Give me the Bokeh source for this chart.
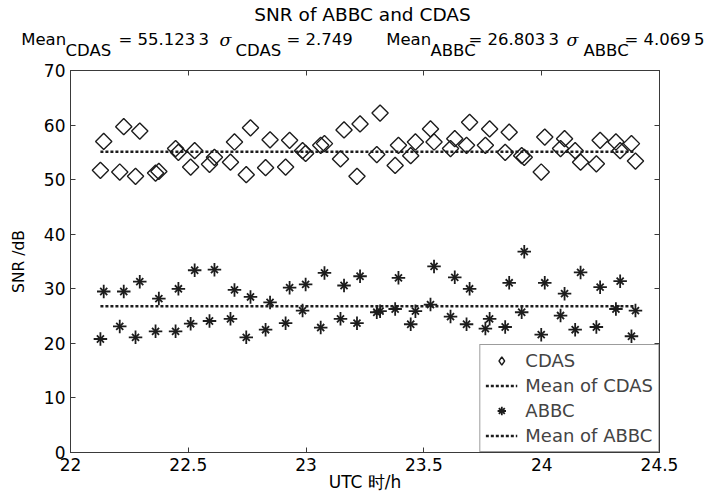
import numpy as np
from bokeh.plotting import figure
from bokeh.layouts import column
from bokeh.models import (Range1d, LinearAxis, FixedTicker, Label, Legend,
                          LegendItem, ColumnDataSource)
from bokeh.embed import file_html
from bokeh.resources import INLINE

# ---------------- data ----------------
utc = [22.127, 22.141, 22.209, 22.226, 22.276, 22.294, 22.361, 22.375, 22.446, 22.458,
       22.510, 22.527, 22.590, 22.611, 22.679, 22.696, 22.746, 22.764, 22.828, 22.847,
       22.913, 22.930, 22.985, 22.998, 23.062, 23.078, 23.146, 23.161, 23.216, 23.229,
       23.300, 23.314, 23.378, 23.392, 23.444, 23.464, 23.528, 23.543, 23.613, 23.631,
       23.681, 23.694, 23.761, 23.779, 23.845, 23.862, 23.915, 23.926, 23.998, 24.013,
       24.080, 24.097, 24.142, 24.165, 24.232, 24.248, 24.315, 24.333, 24.381, 24.398]
snr_cdas = [51.7, 57.0, 51.4, 59.7, 50.6, 58.9, 51.2, 51.5, 55.7, 55.0,
            52.3, 55.3, 52.8, 54.1, 53.2, 56.9, 50.9, 59.5, 52.2, 57.3,
            52.3, 57.2, 55.3, 54.8, 56.3, 56.6, 53.8, 59.1, 50.6, 60.2,
            54.6, 62.2, 52.6, 56.3, 54.4, 56.9, 59.3, 56.9, 55.7, 57.5,
            56.3, 60.5, 56.3, 59.3, 55.0, 58.7, 54.4, 54.1, 51.4, 57.8,
            55.7, 57.5, 55.3, 53.2, 52.9, 57.2, 56.9, 55.3, 56.6, 53.4]
snr_abbc = [20.8, 29.5, 23.1, 29.5, 21.1, 31.3, 22.2, 28.2, 22.2, 30.0,
            23.6, 33.4, 24.1, 33.5, 24.5, 29.8, 21.1, 28.5, 22.5, 27.5,
            23.7, 30.2, 26.0, 30.8, 22.9, 32.9, 24.5, 30.6, 23.7, 32.3,
            25.7, 25.9, 26.3, 32.0, 23.5, 25.9, 27.1, 34.1, 24.9, 32.1,
            23.5, 30.0, 22.7, 24.5, 23.0, 31.1, 25.7, 36.8, 21.6, 31.1,
            25.1, 29.1, 22.5, 33.0, 23.0, 30.3, 26.3, 31.4, 21.3, 26.0]
mean_cdas = 55.1233
std_cdas = 2.749
mean_abbc = 26.8033
std_abbc = 4.0695
x_ticks = [22, 22.5, 23, 23.5, 24, 24.5]
x_tick_labels = ["22", "22.5", "23", "23.5", "24", "24.5"]
y_ticks = [0, 10, 20, 30, 40, 50, 60, 70]
y_tick_labels = ["0", "10", "20", "30", "40", "50", "60", "70"]

# ---------------- layout ----------------
W, H = 710, 496
TH = 59            # title strip height
MH = H - TH        # main figure height
BL, BR, BT, BB = 70, 51, 11, 44

INK = "#1c1c1c"
AX = "#3a3a3a"
FONT = "DejaVu Sans"

# ---- title strip (a figure whose frame is its whole canvas) ----
tf = figure(width=W, height=TH, x_range=Range1d(0, W), y_range=Range1d(0, TH),
            output_backend="svg", toolbar_location=None,
            min_border_left=0, min_border_right=0, min_border_top=0, min_border_bottom=0,
            x_axis_location=None, y_axis_location=None, frame_align=False)
tf.outline_line_color = None
tf.grid.visible = False

def lab(text, px, py, size, font=FONT, style="normal", align="left"):
    tf.add_layout(Label(x=px, y=TH - py, text=text, text_font=font,
                        text_font_size=f"{size}px", text_font_style=style,
                        text_align=align, text_baseline="alphabetic", text_color="black"))

lab("SNR of ABBC and CDAS", 362, 13.5, 18.5, align="center")

def grp(v):
    s = repr(v)
    i, f = s.split(".")
    if len(f) > 3:
        f = f[:3] + "\u2009" + f[3:]
    return i + "." + f

FS = 16.5
BASE, SUB = 38.5, 50

# text pieces of the statistics line and the left edge of each piece (px)
stat_pieces = [
    ("Mean", "main", 20.7), ("CDAS", "sub", 65), ("= " + grp(mean_cdas), "main", 118),
    ("σ", "sig", 219), ("CDAS", "sub", 235), ("= " + grp(std_cdas), "main", 286),
    ("Mean", "main", 385.7), ("ABBC", "sub", 430), ("= " + grp(mean_abbc), "main", 468),
    ("σ", "sig", 566), ("ABBC", "sub", 583), ("= " + grp(std_abbc), "main", 624),
]
for t, kind, x in stat_pieces:
    if kind == "main":
        lab(t, x, BASE, FS)
    elif kind == "sub":
        lab(t, x, SUB, FS)
    else:
        lab(t, x, BASE + 1, 17.5, font="DejaVu Serif", style="italic")

# ---- main plot ----
p = figure(width=W, height=MH, x_range=Range1d(22, 24.5), y_range=Range1d(0, 70),
           output_backend="svg", toolbar_location=None, frame_align=False,
           min_border_left=BL, min_border_right=BR, min_border_top=BT, min_border_bottom=BB,
           background_fill_color="white", border_fill_color="white")
p.grid.visible = False
p.outline_line_color = AX

for ax in (p.xaxis[0], p.yaxis[0]):
    ax.major_tick_in = 5
    ax.major_tick_out = 0
    ax.minor_tick_line_color = None
    ax.axis_line_color = AX
    ax.major_tick_line_color = AX
    ax.major_label_text_font = FONT
    ax.major_label_text_font_size = "17px"
    ax.major_label_text_color = "black"
    ax.axis_label_text_font = FONT
    ax.axis_label_text_font_style = "normal"
    ax.axis_label_text_color = "black"

xa = p.xaxis[0]
xa.ticker = FixedTicker(ticks=x_ticks)
xa.major_label_overrides = {t: l for t, l in zip(x_ticks, x_tick_labels)}
xa.major_label_standoff = 5
xa.axis_label = "UTC 时/h"
xa.axis_label_text_font_size = "17px"
xa.axis_label_standoff = -2

ya = p.yaxis[0]
ya.ticker = FixedTicker(ticks=y_ticks)
ya.major_label_overrides = {t: l for t, l in zip(y_ticks, y_tick_labels)}
ya.major_label_standoff = 5
ya.axis_label = "SNR /dB"
ya.axis_label_text_font_size = "15.5px"
ya.axis_label_standoff = 13

top = LinearAxis(ticker=FixedTicker(ticks=x_ticks), major_tick_in=5, major_tick_out=0,
                 minor_tick_line_color=None, axis_line_color=AX, major_tick_line_color=AX,
                 major_label_text_color=None, major_label_text_font_size="0px",
                 major_label_standoff=0)
right = LinearAxis(ticker=FixedTicker(ticks=y_ticks), major_tick_in=5, major_tick_out=0,
                   minor_tick_line_color=None, axis_line_color=AX, major_tick_line_color=AX,
                   major_label_text_color=None, major_label_text_font_size="0px",
                   major_label_standoff=0)
p.add_layout(top, "above")
p.add_layout(right, "right")

src = ColumnDataSource(dict(utc=utc, cdas=snr_cdas, abbc=snr_abbc))
r_cdas = p.scatter("utc", "cdas", source=src, marker="square", angle=np.pi / 4, size=11.5,
                   line_color=INK, fill_color=None, line_width=1.4)
line_x = [min(utc), max(utc)]
l_cdas = p.line(line_x, [mean_cdas, mean_cdas], line_color=INK, line_width=2.5, line_dash="3 2")
r_ab1 = p.scatter("utc", "abbc", source=src, marker="cross", size=13.5,
                  line_color=INK, line_width=1.8)
r_ab2 = p.scatter("utc", "abbc", source=src, marker="x", size=10,
                  line_color=INK, line_width=1.8)
l_abbc = p.line(line_x, [mean_abbc, mean_abbc], line_color=INK, line_width=2.5, line_dash="3 2")

# legend swatch for the diamonds (a single NaN point, so nothing shows in the plot)
leg_src = ColumnDataSource(dict(utc=[np.nan], cdas=[np.nan]))
r_cdas_leg = p.scatter("utc", "cdas", source=leg_src, marker="diamond", size=17,
                       line_color=INK, fill_color=None, line_width=1.4)

legend = Legend(items=[LegendItem(label="CDAS", renderers=[r_cdas_leg]),
                       LegendItem(label="Mean of CDAS", renderers=[l_cdas]),
                       LegendItem(label="ABBC", renderers=[r_ab1, r_ab2]),
                       LegendItem(label="Mean of ABBC", renderers=[l_abbc])],
                location="bottom_right", margin=0, padding=5, spacing=4,
                label_height=21, glyph_height=21, glyph_width=32, label_standoff=8,
                border_line_color=AX, border_line_width=1,
                label_text_font=FONT, label_text_font_size="18px",
                background_fill_color="white", background_fill_alpha=1)
p.add_layout(legend)

layout = column(tf, p, spacing=0)
open("out.html", "w").write(file_html(layout, INLINE))
